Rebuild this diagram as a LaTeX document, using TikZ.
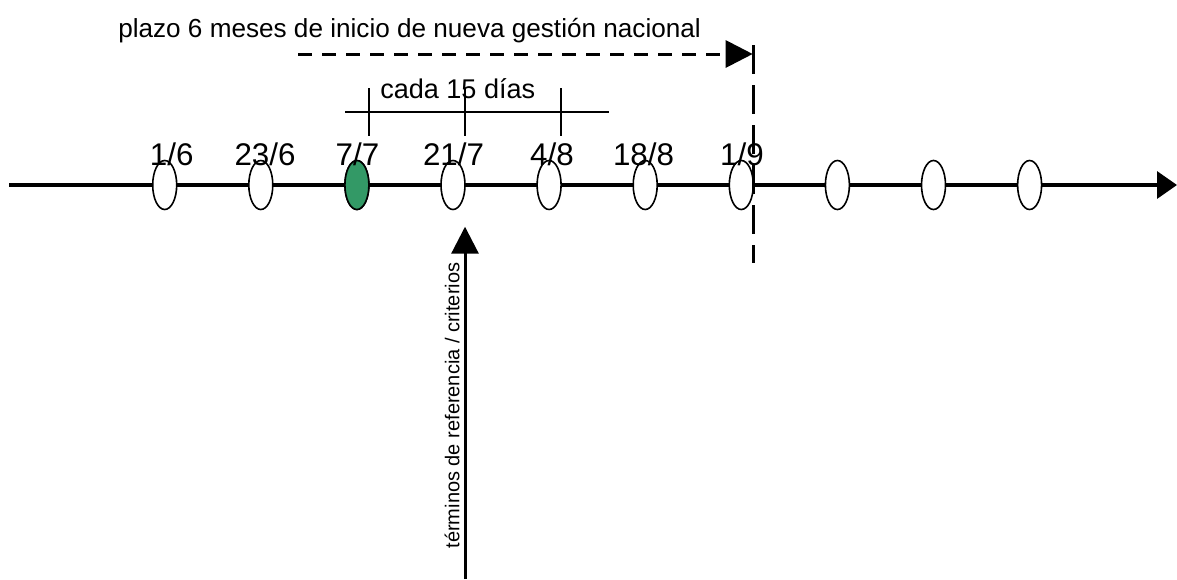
\documentclass[tikz,border=0pt]{standalone}
\usepackage{fontspec}
\setmainfont{Liberation Sans}
\usetikzlibrary{arrows.meta,shapes.geometric}
\definecolor{dotgreen}{RGB}{51,153,102}
\begin{document}
\begin{tikzpicture}[x=0.75pt,y=-0.75pt,
  dot/.style={ellipse,draw=black,line width=1.2pt,fill=white,minimum width=18pt,minimum height=36.75pt,inner sep=0pt},
  datelbl/.style={font=\fontsize{23.5}{25}\selectfont,inner sep=0pt,anchor=base},
  thin/.style={line width=1.1pt},
  bigtip/.style={-{Triangle[length=20.25pt,width=20.25pt]}}]
\useasboundingbox (0,0) rectangle (1177,579);
% main axis
\coordinate (s) at (9,185);
\coordinate (e) at (1177,185);
\draw[line width=2.5pt,-{Triangle[length=15pt,width=20.25pt]}] (s) -- (e);
% ellipses
\foreach \i in {0,...,9}{
  \node[dot] (d\i) at ({164.7+96.1*\i},185) {};
}
\node[dot,fill=dotgreen] at (d2) {};
% date labels
\node[datelbl] (l0) at (171.7,165) {1/6};
\node[datelbl] (l1) at (265,165) {23/6};
\node[datelbl] (l2) at (357.5,165) {7/7};
\node[datelbl] (l3) at (453.5,165) {21/7};
\node[datelbl] (l4) at (552,165) {4/8};
\node[datelbl] (l5) at (643.5,165) {18/8};
\node[datelbl] (l6) at (742,165) {1/9};
% cada 15 dias bracket
\coordinate (h1) at (345,112);
\coordinate (h2) at (609,112);
\draw[thin] (h1) -- (h2);
\coordinate (t1a) at (369,88); \coordinate (t1b) at (369,136);
\coordinate (t2a) at (465,88); \coordinate (t2b) at (465,136);
\coordinate (t3a) at (561,88); \coordinate (t3b) at (561,136);
\draw[thin] (t1a) -- (t1b);
\draw[thin] (t2a) -- (t2b);
\draw[thin] (t3a) -- (t3b);
\node[font=\fontsize{20.3}{22}\selectfont,anchor=base west,inner sep=0pt] (cada) at (380,98) {cada 15 días};
% plazo
\node[font=\fontsize{19.6}{21}\selectfont,anchor=base west,inner sep=0pt] (plazo) at (118,37) {plazo 6 meses de inicio de nueva gestión nacional};
\coordinate (p1) at (298,54);
\coordinate (p2) at (752.7,54);
\draw[line width=2.25pt,dash pattern=on 10.5pt off 7.5pt,bigtip] (p1) -- (p2);
% vertical dashed limit
\coordinate (v1) at (753,45);
\coordinate (v2) at (753,263);
\draw[line width=2.25pt,dash pattern=on 21.75pt off 8.25pt] (v1) -- (v2);
% terminos arrow
\coordinate (ta) at (465,226.7);
\coordinate (tb) at (465,579);
\draw[line width=2.25pt,bigtip] (tb) -- (ta);
\node[font=\fontsize{15}{17}\selectfont,rotate=90,inner sep=0pt] (term) at (452,405.5) {términos de referencia / criterios};
\end{tikzpicture}
\end{document}
